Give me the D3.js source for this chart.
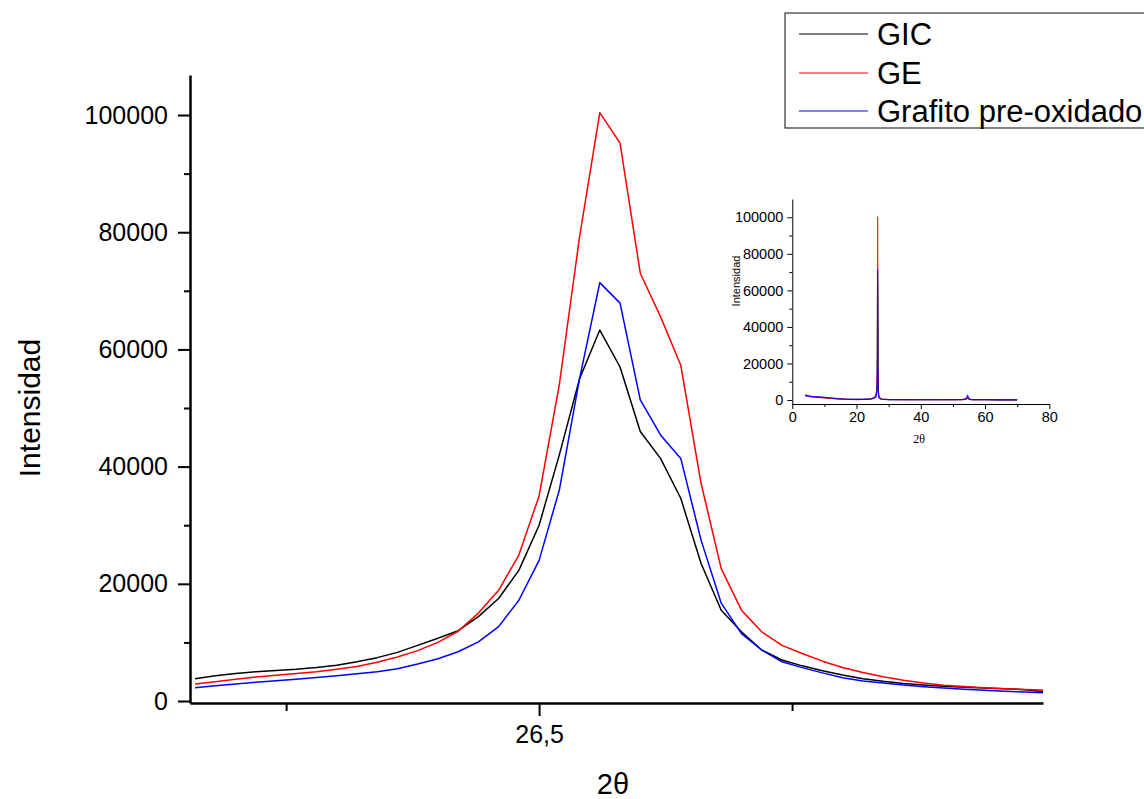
<!DOCTYPE html>
<html>
<head>
<meta charset="utf-8">
<script src="https://cdn.jsdelivr.net/npm/d3@7"></script>
<style>
  html, body { margin: 0; padding: 0; background: #fff; }
  svg { display: block; font-family: Arial, "Liberation Sans", sans-serif; }
</style>
</head>
<body>
<svg id="chart" width="1144" height="799"></svg>
<script>
// 2θ positions of the scan around the (002) graphite reflection
const theta = [26.16, 26.18, 26.20, 26.22, 26.24, 26.26, 26.28, 26.30, 26.32, 26.34,
               26.36, 26.38, 26.40, 26.42, 26.44, 26.46, 26.48, 26.50, 26.52, 26.54,
               26.56, 26.58, 26.60, 26.62, 26.64, 26.66, 26.68, 26.70, 26.72, 26.74,
               26.76, 26.78, 26.80, 26.82, 26.84, 26.86, 26.88, 26.90, 26.92, 26.94,
               26.96, 26.98, 27.00];

// Intensities (counts) for each sample
const gic = [3800, 4300, 4700, 5000, 5200, 5400, 5700, 6100, 6700, 7400,
             8300, 9500, 10700, 12000, 14400, 17500, 22300, 30000, 42000, 55000,
             63300, 57000, 46000, 41400, 34600, 23500, 15500, 11800, 8700, 7000,
             6000, 5150, 4420, 3800, 3360, 3000, 2730, 2520, 2360, 2220,
             2100, 1940, 1550];
const ge = [2900, 3300, 3700, 4100, 4400, 4700, 5000, 5400, 5900, 6600,
            7500, 8600, 10000, 11900, 15000, 18900, 24900, 35000, 54000, 79200,
            100400, 95200, 73000, 65600, 57300, 37200, 22600, 15500, 11800, 9500,
            8100, 6800, 5720, 4880, 4150, 3560, 3060, 2680, 2460, 2260,
            2100, 1980, 1850];
const preOx = [2250, 2600, 2900, 3200, 3450, 3700, 4000, 4300, 4650, 5000,
               5500, 6300, 7200, 8400, 10100, 12700, 17200, 24000, 36000, 55000,
               71400, 67900, 51400, 45400, 41400, 27500, 16700, 11500, 8700, 6700,
               5700, 4800, 3980, 3410, 3070, 2720, 2440, 2230, 2020, 1840,
               1660, 1520, 1400];

// Wide scan (inset): points below and above the zoomed window
const wideThetaLow  = [4, 5, 6, 8, 10, 12, 14, 16, 18, 20, 22, 24, 25, 25.6, 26.0];
const wideThetaHigh = [27.3, 27.6, 28, 30, 35, 40, 45, 50, 53, 54, 54.4, 54.6, 54.8, 55.2, 56, 60, 65, 70];
const gicLow    = [2600, 2200, 1900, 1600, 1300, 1000, 750, 500, 350, 300, 350, 600, 900, 1500, 2600];
const gicHigh   = [900, 600, 450, 250, 180, 150, 150, 180, 250, 500, 900, 1100, 700, 350, 200, 150, 120, 100];
const geLow     = [2300, 2000, 1700, 1400, 1100, 850, 650, 450, 300, 250, 300, 500, 800, 1200, 2000];
const geHigh    = [1000, 700, 500, 280, 200, 160, 150, 180, 250, 500, 1000, 1300, 800, 350, 200, 150, 120, 100];
const preLow    = [2800, 2300, 2000, 1700, 1400, 1100, 800, 550, 380, 300, 320, 500, 700, 1100, 1700];
const preHigh   = [800, 550, 420, 240, 170, 140, 140, 170, 260, 700, 1900, 2500, 1400, 450, 200, 150, 120, 100];

// Axis tick values and labels
const yMajor = [0, 20000, 40000, 60000, 80000, 100000];
const yMinor = [10000, 30000, 50000, 70000, 90000];
const xMajor = [26.5];
const xMajorLabels = ["26,5"];
const xMinor = [26.25, 26.75];
const insetXMajor = [0, 20, 40, 60, 80];
const insetXMinor = [10, 30, 50, 70];
const insetYMajor = [0, 20000, 40000, 60000, 80000, 100000];
const insetYMinor = [10000, 30000, 50000, 70000, 90000];

const seriesNames = ["GIC", "GE", "Grafito pre-oxidado"];
const seriesColors = ["#000000", "#ff0000", "#0000ff"];

const svg = d3.select("#chart");
svg.append("rect").attr("width", 1144).attr("height", 799).attr("fill", "#fff");

// ---------- main plot ----------
const plot = { left: 190, right: 1043, top: 75, bottom: 703 };
const x = d3.scaleLinear().domain([26.155, 26.998]).range([plot.left, plot.right]);
const y = d3.scaleLinear().domain([-340, 106830]).range([plot.bottom, plot.top]);

svg.append("clipPath").attr("id", "mainClip")
  .append("rect")
  .attr("x", plot.left).attr("y", plot.top)
  .attr("width", plot.right - plot.left).attr("height", plot.bottom - plot.top);

const mainSeries = [gic, ge, preOx];
const line = d3.line().x((d, i) => x(theta[i])).y(d => y(d));
const gLines = svg.append("g").attr("clip-path", "url(#mainClip)");
mainSeries.forEach((vals, k) => {
  gLines.append("path")
    .datum(vals)
    .attr("d", line)
    .attr("fill", "none")
    .attr("stroke", seriesColors[k])
    .attr("stroke-width", 1.5)
    .attr("stroke-linejoin", "round");
});

// y axis
const yAxis = svg.append("g").attr("transform", `translate(${plot.left},0)`)
  .call(d3.axisLeft(y).tickValues(yMajor).tickSize(12).tickSizeOuter(0).tickPadding(10)
    .tickFormat(d3.format("d")));
yAxis.select(".domain").attr("stroke-width", 2.5);
yAxis.selectAll(".tick line").attr("stroke-width", 2);
yAxis.selectAll(".tick text").attr("font-size", 25).attr("fill", "#000")
  .attr("font-family", "Arial, 'Liberation Sans', sans-serif");
svg.append("g").attr("transform", `translate(${plot.left},0)`)
  .call(d3.axisLeft(y).tickValues(yMinor).tickSize(6).tickSizeOuter(0).tickFormat(""))
  .call(g => g.select(".domain").remove())
  .selectAll(".tick line").attr("stroke-width", 2);

// x axis
const xAxis = svg.append("g").attr("transform", `translate(0,${plot.bottom})`)
  .call(d3.axisBottom(x).tickValues(xMajor).tickSize(13).tickSizeOuter(0).tickPadding(9)
    .tickFormat((d, i) => xMajorLabels[i]));
xAxis.select(".domain").attr("stroke-width", 2.5);
xAxis.selectAll(".tick line").attr("stroke-width", 2);
xAxis.selectAll(".tick text").attr("font-size", 25).attr("fill", "#000")
  .attr("font-family", "Arial, 'Liberation Sans', sans-serif");
svg.append("g").attr("transform", `translate(0,${plot.bottom})`)
  .call(d3.axisBottom(x).tickValues(xMinor).tickSize(8).tickSizeOuter(0).tickFormat(""))
  .call(g => g.select(".domain").remove())
  .selectAll(".tick line").attr("stroke-width", 2);

// axis titles
svg.append("text")
  .attr("transform", "translate(40,408) rotate(-90)")
  .attr("text-anchor", "middle")
  .attr("font-size", 30)
  .text("Intensidad");
svg.append("text")
  .attr("x", 613).attr("y", 794)
  .attr("text-anchor", "middle")
  .attr("font-size", 29)
  .text("2θ");

// ---------- legend ----------
const legend = svg.append("g");
legend.append("rect")
  .attr("x", 785).attr("y", 13).attr("width", 400).attr("height", 115)
  .attr("fill", "#fff").attr("stroke", "#333").attr("stroke-width", 1.2);
const legendRows = [34, 73, 111];
seriesNames.forEach((name, k) => {
  legend.append("line")
    .attr("x1", 799).attr("x2", 868)
    .attr("y1", legendRows[k]).attr("y2", legendRows[k])
    .attr("stroke", seriesColors[k]).attr("stroke-width", 1.2);
  legend.append("text")
    .attr("x", 877).attr("y", legendRows[k])
    .attr("dy", "0.36em")
    .attr("font-size", 31)
    .text(name);
});

// ---------- inset: full scan ----------
const inset = { left: 792.3, right: 1049.3, top: 199, bottom: 404 };
const ix = d3.scaleLinear().domain([0, 80]).range([inset.left, inset.right]);
const iy = d3.scaleLinear().domain([-2190, 110000]).range([inset.bottom, inset.top]);

const wideTheta = wideThetaLow.concat(theta, wideThetaHigh);
const insetSeries = [
  gicLow.concat(gic, gicHigh),
  geLow.concat(ge, geHigh),
  preLow.concat(preOx, preHigh)
];
const iline = d3.line().x((d, i) => ix(wideTheta[i])).y(d => iy(d));
insetSeries.forEach((vals, k) => {
  svg.append("path")
    .datum(vals)
    .attr("d", iline)
    .attr("fill", "none")
    .attr("stroke", seriesColors[k])
    .attr("stroke-opacity", k === 0 ? 0.8 : 0.85)
    .attr("stroke-width", 1.2);
});

const iyAxis = svg.append("g").attr("transform", `translate(${inset.left},0)`)
  .call(d3.axisLeft(iy).tickValues(insetYMajor).tickSize(5).tickSizeOuter(0).tickPadding(4)
    .tickFormat(d3.format("d")));
iyAxis.selectAll(".tick text").attr("font-size", 14.5).attr("fill", "#000");
svg.append("g").attr("transform", `translate(${inset.left},0)`)
  .call(d3.axisLeft(iy).tickValues(insetYMinor).tickSize(3).tickSizeOuter(0).tickFormat(""))
  .call(g => g.select(".domain").remove());

const ixAxis = svg.append("g").attr("transform", `translate(0,${inset.bottom})`)
  .call(d3.axisBottom(ix).tickValues(insetXMajor).tickSize(5).tickSizeOuter(0).tickPadding(3));
ixAxis.selectAll(".tick text").attr("font-size", 14.5).attr("fill", "#000");
svg.append("g").attr("transform", `translate(0,${inset.bottom})`)
  .call(d3.axisBottom(ix).tickValues(insetXMinor).tickSize(3).tickSizeOuter(0).tickFormat(""))
  .call(g => g.select(".domain").remove());

svg.append("text")
  .attr("transform", "translate(740,281) rotate(-90)")
  .attr("text-anchor", "middle")
  .attr("font-size", 11)
  .text("Intensidad");
svg.append("text")
  .attr("x", 919).attr("y", 443)
  .attr("text-anchor", "middle")
  .attr("font-size", 12)
  .attr("font-family", "'Liberation Serif', 'DejaVu Serif', serif")
  .text("2θ");
</script>
</body>
</html>
